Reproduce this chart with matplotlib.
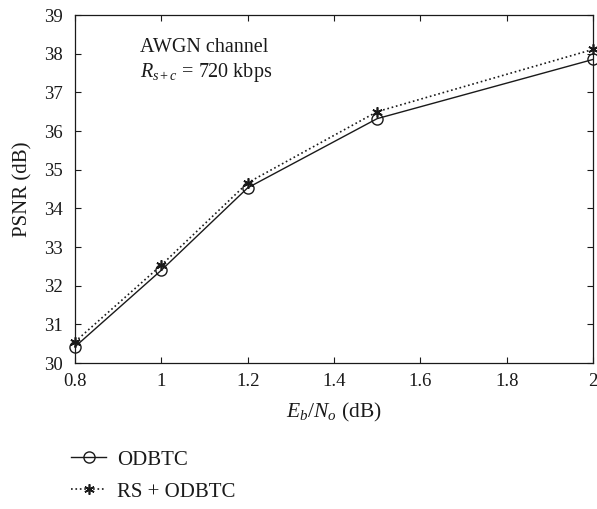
import matplotlib
matplotlib.use('Agg')
from matplotlib import pyplot as plt

plt.rcParams['font.family'] = ['Liberation Serif', 'DejaVu Serif']
plt.rcParams['mathtext.fontset'] = 'custom'
plt.rcParams['mathtext.rm'] = 'Liberation Serif'
plt.rcParams['mathtext.it'] = 'Liberation Serif:italic'

ebno = [0.8, 1.0, 1.2, 1.5, 2.0]
psnr_odbtc = [30.42, 32.40, 34.53, 36.32, 37.85]
psnr_rs_odbtc = [30.55, 32.53, 34.66, 36.50, 38.11]

xticks = [0.8, 1, 1.2, 1.4, 1.6, 1.8, 2]
xticklabels = ['0.8', '1', '1.2', '1.4', '1.6', '1.8', '2']
yticks = list(range(30, 40))

fig = plt.figure(figsize=(5.97, 5.09), dpi=100)
ax = fig.add_axes([75 / 597, 1 - 363 / 509, 518 / 597, 348 / 509])

l1, = ax.plot(ebno, psnr_odbtc, '-', color='#1a1a1a', lw=1.0,
              marker='o', mfc='none', mec='#1a1a1a', ms=8, mew=1.0, clip_on=False)
l2, = ax.plot(ebno, psnr_rs_odbtc, ':', color='#1a1a1a', lw=1.2,
              marker=(6, 2, 0), ms=7.5, mew=1.2, mec='#1a1a1a', clip_on=False)

ax.set_xlim(0.8, 2)
ax.set_ylim(30, 39)
ax.set_xticks(xticks)
ax.set_xticklabels(xticklabels)
ax.set_yticks(yticks)
ax.tick_params(direction='in', top=True, right=True, labelsize=13.5,
               length=4, width=0.8, colors='#1a1a1a')
ax.tick_params(axis='x', pad=7)
ax.tick_params(axis='y', pad=9)
for s in ax.spines.values():
    s.set_linewidth(0.9)
    s.set_color('#1a1a1a')

ax.set_xlabel(r'$E_b/N_o$ (dB)', fontsize=15.5, labelpad=8, color='#1a1a1a')
ax.set_ylabel('PSNR (dB)', fontsize=15, labelpad=8, color='#1a1a1a')

ax.text(0.1255, 0.894, 'AWGN channel', transform=ax.transAxes, fontsize=14.5,
        va='baseline', color='#1a1a1a')
ax.text(0.1255, 0.822, r'$R_{s+c}$ = 720 kbps', transform=ax.transAxes, fontsize=14.5,
        va='baseline', color='#1a1a1a')

leg = fig.legend([l1, l2], ['ODBTC', 'RS + ODBTC'], loc='upper left',
                 bbox_to_anchor=(71 / 597, 1 - 450 / 509), frameon=False, fontsize=15,
                 handlelength=1.7, labelspacing=0.6, handletextpad=0.5,
                 borderpad=0, borderaxespad=0)
for t in leg.get_texts():
    t.set_color('#1a1a1a')

fig.savefig('out.png', dpi=100)
